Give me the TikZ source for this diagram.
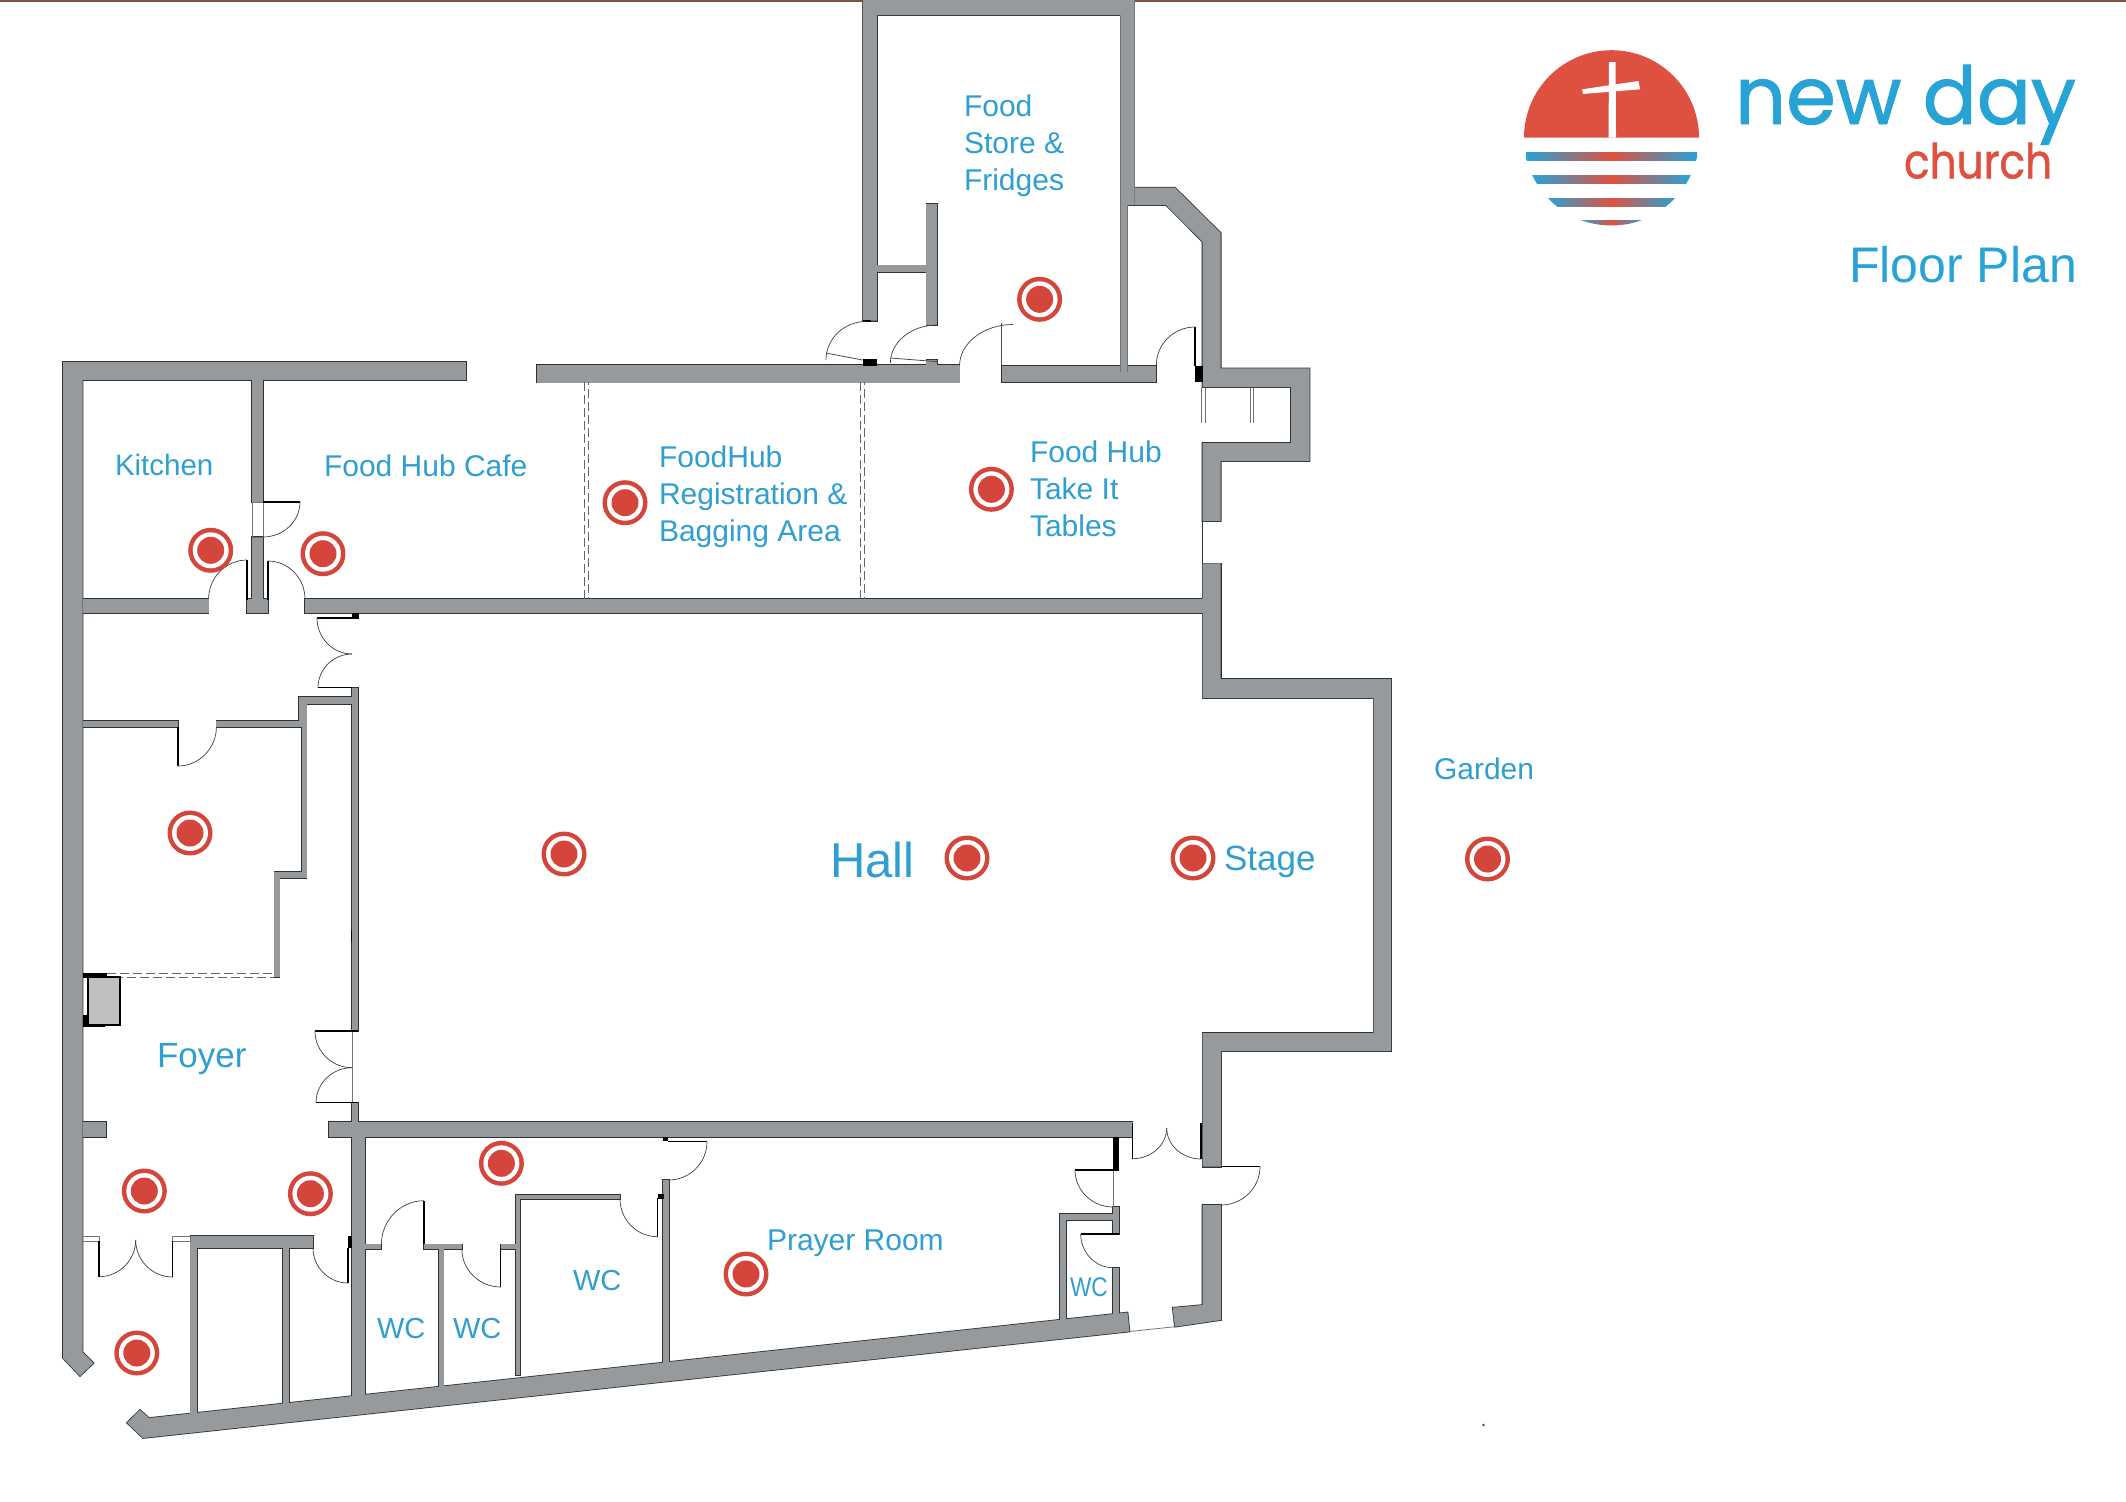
\documentclass[tikz,border=0pt]{standalone}
\usepackage{fontspec}
\usepackage{graphicx}
\setmainfont{Liberation Sans}
\newfontfamily\logofont[FakeBold=1.2]{Poppins}
\definecolor{wallc}{HTML}{969A9D}
\definecolor{edgec}{HTML}{2E3234}
\definecolor{labelc}{HTML}{2F9FD0}
\definecolor{markc}{HTML}{D4463C}
\definecolor{sunc}{HTML}{DE5140}
\definecolor{logob}{HTML}{27A3D6}
\definecolor{rulec}{HTML}{7A5444}
\newcommand\fs[1]{\fontsize{#1}{37}\selectfont}
\newcommand\rc[4]{\path[wstyle] (#1,#2) rectangle (#3,#4);}
\newcommand\qarc[4]{\draw[doorarc] (#1,#2) .. controls ({#1+.55*(#3-#1)},#2) and (#3,{#4+.55*(#2-#4)}) .. (#3,#4);}
\newcommand\leaf[4]{\draw[leafline] (#1,#2) -- (#3,#4);}
\newcommand\blk[4]{\fill[black] (#1,#2) rectangle (#3,#4);}
\newcommand\wallset{%
 \rc{63}{362}{466}{380.3}
 \path[wstyle] (63,362)--(82.5,362)--(82.5,1352)--(93.5,1363)--(80,1376)--(63,1358)--cycle;
 \rc{252}{380}{263}{502}
 \rc{252}{537}{263}{599}
 \rc{82.5}{599}{208.6}{612.7}
 \rc{247}{599}{268}{612.7}
 \rc{305}{599}{1203}{612.7}
 \rc{537}{364.5}{959.6}{382.5}
 \rc{1001.8}{365.7}{1156.4}{382}
 \rc{82.5}{720.7}{178}{727}
 \rc{216.4}{720.7}{302}{727}
 \rc{299}{697}{306.5}{727}
 \rc{299}{697}{358}{704}
 \rc{352}{688}{358}{1031}
 \rc{302}{727}{306.5}{878}
 \rc{274.3}{872}{306.5}{878}
 \rc{274.3}{872}{279.6}{977}
 \rc{82.5}{1122}{106}{1136.7}
 \rc{328.6}{1122}{352}{1136.7}
 \rc{352}{1103}{358}{1122}
 \rc{352}{1122}{365}{1398}
 \rc{358}{1122}{1132.6}{1136.7}
 \path[wstyle] (127,1422.7)--(140,1410)--(149,1418)--(1127.5,1312.5)--(1129.5,1331.5)--(143,1438)--cycle;
 \rc{190.4}{1235.7}{313}{1247.7}
 \rc{190.4}{1247}{197}{1426}
 \rc{282.5}{1247}{289.3}{1418}
 \rc{365}{1244.3}{381.4}{1248.7}
 \rc{424}{1244.3}{461.8}{1248.7}
 \rc{500.7}{1244.3}{520}{1248.7}
 \rc{438.6}{1248}{443.6}{1390}
 \rc{516}{1195}{520}{1375}
 \rc{516}{1195}{620}{1199}
 \rc{663}{1180}{668.7}{1365}
 \rc{1113}{1207}{1119}{1234}
 \rc{1060}{1214}{1113}{1220}
 \rc{1060}{1214}{1066}{1320}
 \rc{1113}{1268}{1119}{1318}
 \path[wstyle] (1172.7,1307.7)--(1202.5,1305)--(1202.5,1205)--(1221,1205)--(1221,1320)--(1175,1326.7)--cycle;
 \path[wstyle] (1202.5,1166.7)--(1221,1166.7)--(1221,1051)--(1391,1051)--(1391,679)--(1220.7,679)--(1220.7,563.3)--(1202.5,563.3)--(1202.5,698)--(1373.6,698)--(1373.6,1033)--(1202.5,1033)--cycle;
 \path[wstyle] (1202.5,521)--(1220.7,521)--(1220.7,461)--(1309.6,461)--(1309.6,368.3)--(1220.7,368.3)--(1220.7,233)--(1175,187.7)--(1134.6,187.7)--(1134.6,205)--(1166,205)--(1202.5,241.7)--(1202.5,387)--(1291,387)--(1291,443)--(1202.5,443)--cycle;
 \path[wstyle] (862.5,0)--(1134.6,0)--(1134.6,205)--(1127.5,205)--(1127.5,366)--(1120.4,366)--(1120.4,15)--(876.8,15)--(876.8,320.7)--(862.5,320.7)--cycle;
 \rc{926.4}{204}{937}{325}
 \rc{926.4}{360}{937}{366}
 \rc{876.8}{265.3}{926.4}{272.3}
}
\tikzset{
 doorarc/.style={draw=black!75,line width=.7pt},
 leafline/.style={draw=black,line width=1.3pt},
 thinleaf/.style={draw=black!70,line width=.8pt},
 dashl/.style={draw=black!60,line width=.9pt,dash pattern=on 9pt off 4pt},
 dashr/.style={draw=black!60,line width=.9pt,dash pattern=on 9pt off 4pt,dash phase=6pt},
 thinl/.style={draw=black!55,line width=.8pt},
 roomlabel/.style={text=labelc,anchor=base west,inner sep=0pt,outer sep=0pt,align=left,yshift=-1.2pt},
 logolabel/.style={anchor=base west,inner sep=0pt,outer sep=0pt},
 ringo/.style={circle,fill=markc,minimum size=45pt,inner sep=0pt},
}
\newcommand\target[3]{\node[ringo,yshift=-1pt] (#1) at (#2,#3) {}; \fill[white] (#1.center) circle[radius=18pt]; \fill[markc] (#1.center) circle[radius=13.5pt];}
\begin{document}
\begin{tikzpicture}[x=1pt,y=-1pt]
\useasboundingbox (0,0) rectangle (2126,1502);
\fill[white] (0,0) rectangle (2126,1502);
\draw[rulec,line width=1.6pt] (0,.8) -- (2126,.8);
% walls: stroked first, then filled, so overlaps merge
\begin{scope}
 \tikzset{wstyle/.style={draw=edgec,line width=1.6pt,line join=miter}}
 \wallset
\end{scope}
\begin{scope}
 \tikzset{wstyle/.style={fill=wallc}}
 \wallset
\end{scope}
% thin details
\draw[thinl] (1120.4,366)--(1120.4,372) (1127.5,366)--(1127.5,372);
\draw[thinl] (252,502)--(263,502) (252,537)--(263,537);
\draw[thinl] (252,502)--(252,537) (263,502)--(263,537);
\draw[thinl] (82.5,1236) rectangle (99,1241);
\draw[thinl] (172.5,1236) rectangle (190.4,1241);
\draw[thinl] (352,1031)--(352,1103);
\draw[thinl] (1113,1170)--(1113,1207);
\draw[thinl] (1129.5,1331.5)--(1175,1326.7);
\draw[draw=edgec,line width=.8pt] (1202.5,521)--(1202.5,563.3);
\draw[black,line width=1pt] (351,931)--(351,941);
\draw[dashl] (584,382)--(584,599);
\draw[dashr] (588,382)--(588,599);
\draw[dashl] (860,382)--(860,599);
\draw[dashr] (864.3,382)--(864.3,599);
\draw[dashl] (107,973.5)--(274,973.5);
\draw[dashr] (120,977)--(274,977);
\draw[thinl] (1201.8,388)--(1201.8,423) (1205.2,388)--(1205.2,423);
\draw[thinl] (1250,388)--(1250,423) (1253.4,388)--(1253.4,423);
% lobby unit
\blk{82.5}{972.7}{107}{978}
\blk{82.5}{1015}{105}{1027}
\draw[black,fill=black!25,line width=1.2pt] (88,977) rectangle (120,1025);
% black posts
\blk{352}{612.7}{358.6}{618.7}
\blk{1195}{366}{1203}{381.7}
\blk{862.5}{359}{877}{366}
\blk{862.5}{320}{871}{322}
\blk{348}{1236}{352}{1248}
\blk{657.5}{1194}{664}{1199}
\blk{663}{1136.7}{668}{1141}
\blk{1113.3}{1136.7}{1119}{1170}
% door leaves
\leaf{263}{502}{300}{502}
\leaf{247}{600}{247}{560}
\leaf{268}{600}{268}{561}
\leaf{317}{618}{352}{618}
\leaf{318}{687.7}{352}{687.7}
\leaf{178}{727}{178}{766}
\leaf{315}{1031}{358}{1031}
\leaf{316}{1102.7}{358}{1102.7}
\leaf{99}{1241}{99}{1276.7}
\leaf{172.5}{1241}{172.5}{1277}
\leaf{348}{1248}{348}{1283}
\leaf{424}{1244}{424}{1200.7}
\leaf{500.7}{1248}{500.7}{1287}
\leaf{657.5}{1198}{657.5}{1236.7}
\leaf{668}{1141.7}{707}{1141.7}
\leaf{1075}{1170}{1119}{1170}
\leaf{1080.7}{1234}{1119}{1234}
\leaf{1132.7}{1122.7}{1132.7}{1158.7}
\leaf{1201}{1122.7}{1201}{1159}
\leaf{1221}{1166.7}{1260}{1166.7}
\draw[thinleaf] (826,353)--(862.5,360);
\draw[thinleaf] (890.4,358)--(937.5,361.7);
\draw[thinleaf] (1001.8,365.7)--(1001.8,322.7);
\leaf{1195}{366}{1195}{327}
% door swings
\qarc{263}{537}{300}{502}
\qarc{247}{560}{208.6}{599}
\qarc{268}{561}{305}{599}
\qarc{352}{654}{317}{618}
\qarc{352}{654}{318}{687.7}
\qarc{178}{766}{216.4}{727}
\qarc{352}{1067.7}{315}{1031}
\qarc{352}{1067.7}{316}{1102.7}
\qarc{99}{1276.7}{135.7}{1240}
\qarc{172.5}{1277}{135.7}{1240}
\qarc{348}{1283}{313}{1248}
\qarc{424}{1200.7}{381.4}{1244.3}
\qarc{500.7}{1287}{461.8}{1248.7}
\qarc{657.5}{1236.7}{620}{1199}
\qarc{668.7}{1180}{707}{1141.7}
\qarc{1113}{1207}{1075}{1170}
\qarc{1113}{1267.7}{1080.7}{1234}
\qarc{1132.7}{1158.7}{1166.7}{1128}
\qarc{1201}{1159}{1166.7}{1128}
\qarc{1221}{1205}{1260}{1166.7}
\qarc{866}{321.5}{826}{360}
\qarc{937}{325}{890.4}{363}
\qarc{1013}{324.5}{959.6}{365.7}
\qarc{1195}{327}{1156.4}{365}
% speck
\fill[black!70] (1483.5,1425) circle[radius=1.3pt];
% targets
\target{t1}{210.7}{549.3}
\target{t2}{323}{552.7}
\target{t3}{190}{832}
\target{t4}{144.3}{1190}
\target{t5}{310.4}{1192.7}
\target{t6}{136.8}{1352}
\target{t7}{501.4}{1162.3}
\target{t8}{746}{1273}
\target{t9}{1039.6}{298.3}
\target{t10}{991.4}{488.3}
\target{t11}{625}{501.7}
\target{t12}{564}{853}
\target{t13}{967}{857}
\target{t14}{1193}{857}
\target{t15}{1487.5}{858}
% labels
\node[roomlabel] (kitchen) at (115,474) {\fs{29.5}Kitchen};
\node[roomlabel] (cafe) at (324,475.7) {\fs{30}Food Hub Cafe};
\node[roomlabel] (reg1) at (659,466) {\fs{30}FoodHub};
\node[roomlabel] (reg2) at (659,503.3) {\fs{30}Registration \&};
\node[roomlabel] (reg3) at (659,540.7) {\fs{30}Bagging Area};
\node[roomlabel] (take1) at (1030,461.7) {\fs{30}Food Hub};
\node[roomlabel] (take2) at (1030,498) {\fs{30}Take It};
\node[roomlabel] (take3) at (1030,535) {\fs{30}Tables};
\node[roomlabel] (store1) at (964,115.7) {\fs{30}Food};
\node[roomlabel] (store2) at (964,152.7) {\fs{30}Store \&};
\node[roomlabel] (store3) at (964,189) {\fs{30}Fridges};
\node[roomlabel] (foyer) at (157,1066) {\fs{35}Foyer};
\node[roomlabel] (wc1) at (377,1337) {\fs{29}WC};
\node[roomlabel] (wc2) at (453,1337) {\fs{29}WC};
\node[roomlabel] (wc3) at (573,1289) {\fs{29}WC};
\node[roomlabel] (wc4) at (1070,1295.7) {\scalebox{.84}[1]{\fs{27}WC}};
\node[roomlabel] (prayer) at (767,1249) {\fs{30}Prayer Room};
\node[roomlabel] (hall) at (830,876) {\fs{49}Hall};
\node[roomlabel] (stage) at (1224,869) {\fs{35}Stage};
\node[roomlabel] (garden) at (1434,778) {\fs{30}Garden};
\node[logolabel,text=logob] (plan) at (1849,282) {\fs{50}Floor Plan};
% logo
\fill[sunc] (1524,137.7) arc[start angle=180,end angle=0,radius=87.5pt] -- cycle;
\begin{scope}
 \clip (1611.5,138) circle[radius=87.5pt];
 \path[left color=logob,right color=logob,middle color=sunc] (1526,152.7) rectangle (1697,160.7);
 \path[left color=logob,right color=logob,middle color=sunc] (1532,175.3) rectangle (1691,183.3);
 \path[left color=logob,right color=logob,middle color=sunc] (1547,198) rectangle (1676,206);
 \path[left color=logob,right color=logob,middle color=sunc] (1581,220.3) rectangle (1642,226);
\end{scope}
\fill[white] (1609,62) -- (1615.6,62) -- (1616,137.7) -- (1608.5,137.7) -- cycle;
\fill[white] (1582,89.3) -- (1638.5,81) -- (1640,89.3) -- (1583,94) -- cycle;
\node[logolabel,text=logob] (newday) at (1735,124) {\logofont\fs{80}new day};
\node[logolabel,text=sunc] (church) at (1904,178.3) {\scalebox{.88}[1]{\logofont\fs{48}church}};
\end{tikzpicture}
\end{document}
